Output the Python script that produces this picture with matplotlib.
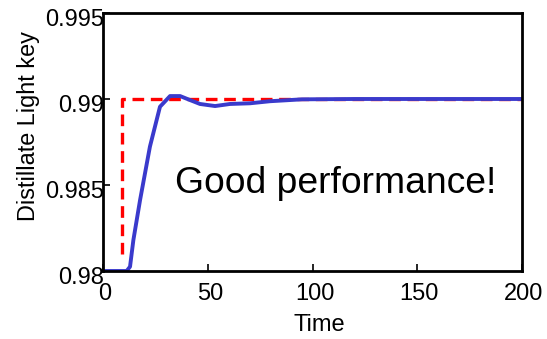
import numpy as np
import matplotlib
matplotlib.use('Agg')
import matplotlib.pyplot as plt
import matplotlib.transforms as mtransforms

plt.rcParams['font.family'] = ['Liberation Sans', 'DejaVu Sans']

# setpoint (red dashed)
sp_t = [9, 9, 200]
sp_y = [0.981, 0.990, 0.990]

# response (blue)
resp_t = [0, 11.3, 12.9, 14.5, 17.7, 22.4, 27.2, 32.0, 36.8, 41.5, 46.3, 53.5, 60.6, 70.2, 79.7, 95, 120, 160, 200]
resp_y = [0.980, 0.980, 0.98025, 0.9818, 0.98413, 0.98723, 0.98955, 0.99017, 0.99017, 0.98994,
          0.98971, 0.98959, 0.98971, 0.98975, 0.98987, 0.98998, 0.99, 0.99, 0.99]

xticks = [0, 50, 100, 150, 200]
yticks = [0.98, 0.985, 0.99, 0.995]
yticklabels = ['0.98', '0.985', '0.99', '0.995']

fig = plt.figure(figsize=(5.47, 3.39), dpi=100)
ax = fig.add_axes([0.1883, 0.2006, 0.766, 0.7611])

ax.plot(sp_t, sp_y, '--', color='#ff0000', lw=2.4, dashes=(3.5, 2.0))
ax.plot(resp_t, resp_y, '-', color='#3a3acc', lw=2.8)

ax.set_xlim(0, 200)
ax.set_ylim(0.98, 0.995)
ax.set_xticks(xticks)
ax.set_yticks(yticks)
ax.set_yticklabels(yticklabels)
ax.tick_params(direction='in', length=5, width=1.2, labelsize=17, pad=9)
ax.tick_params(axis='y', pad=-1)
for s in ax.spines.values():
    s.set_linewidth(2)

# matlab-style label offsets
dy = mtransforms.ScaledTranslation(0, -0.045, fig.dpi_scale_trans)
for lab in ax.get_yticklabels():
    lab.set_transform(lab.get_transform() + dy)
dx = mtransforms.ScaledTranslation(0.02, 0, fig.dpi_scale_trans)
for lab in ax.get_xticklabels():
    lab.set_transform(lab.get_transform() + dx)

ax.set_xlabel('Time', fontsize=17)
ax.xaxis.set_label_coords(0.517, -0.167)
ax.set_ylabel('Distillate Light key', fontsize=16.9)
ax.yaxis.set_label_coords(-0.15, 0.562)

ax.text(0.555, 0.341, 'Good performance!', transform=ax.transAxes,
        fontsize=26.8, ha='center', va='center')

fig.savefig('out.png', dpi=100)
